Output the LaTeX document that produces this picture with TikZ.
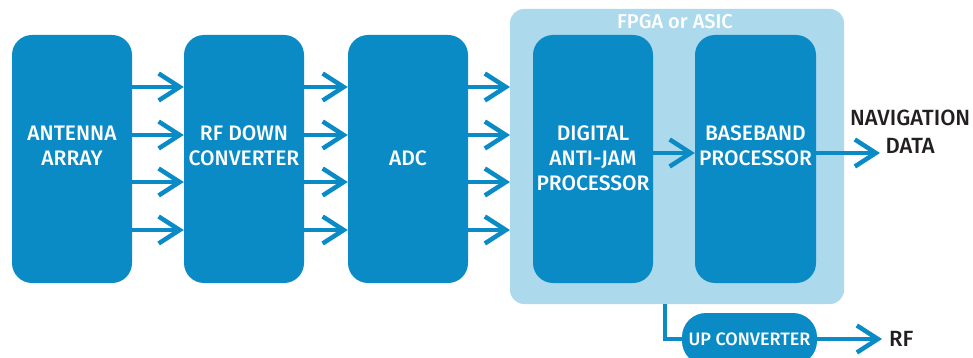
\documentclass[tikz,border=0pt]{standalone}
\usepackage{fontspec}
\setmainfont{Fira Sans}
\newfontfamily\semib{Fira Sans Medium}
\usetikzlibrary{arrows.meta}
\definecolor{mainblue}{HTML}{0A8BC6}
\definecolor{lightblue}{HTML}{ADD9ED}
\definecolor{darktext}{HTML}{231F20}
\tikzset{
  blockbox/.style={fill=mainblue, draw=none, rounded corners=20pt},
  blocktext/.style={text=white, align=center, font=\semib\fontsize{21}{25}\selectfont, inner sep=0pt},
  conn/.style={draw=mainblue, line width=4.5pt, -{Straight Barb[length=21pt,width=27pt]}},
  plainconn/.style={draw=mainblue, line width=4.5pt},
  outtext/.style={text=darktext, align=center, font=\semib\fontsize{22}{28}\selectfont, inner sep=0pt}
}
\begin{document}
\begin{tikzpicture}[x=1pt,y=-1pt]
\useasboundingbox (0,0) rectangle (973,358);
% FPGA container
\path[fill=lightblue, rounded corners=14pt] (510,9) rectangle (844,304);
\node[text=white, font=\semib\fontsize{20}{20}\selectfont, inner sep=0pt] (fpgalabel) at (675,22) {FPGA or ASIC};
\coordinate (fpgabot) at (665,304);
% blocks
\path[blockbox] (12,35) rectangle (132,283);
\path[blockbox] (184,35) rectangle (304,283);
\path[blockbox] (348,35) rectangle (468,283);
\path[blockbox] (533,35) rectangle (653,283);
\path[blockbox] (695,35) rectangle (816,283);
\node[minimum width=120pt, minimum height=248pt, inner sep=0pt] (ant) at (72,159) {};
\node[minimum width=120pt, minimum height=248pt, inner sep=0pt] (rfd) at (244,159) {};
\node[minimum width=120pt, minimum height=248pt, inner sep=0pt] (adc) at (408,159) {};
\node[minimum width=120pt, minimum height=248pt, inner sep=0pt] (daj) at (593,159) {};
\node[minimum width=121pt, minimum height=248pt, inner sep=0pt] (bbp) at (755.5,159) {};
\node[blocktext] (antt) at (72,146) {ANTENNA\\ARRAY};
\node[blocktext] (rfdt) at (244,146) {RF DOWN\\CONVERTER};
\node[blocktext] (adct) at (408,158) {ADC};
\node[blocktext] (dajt) at (593,158) {DIGITAL\\ANTI-JAM\\PROCESSOR};
\node[blocktext] (bbpt) at (755.5,146) {BASEBAND\\PROCESSOR};
% up converter
\node[fill=mainblue, rounded corners=24pt, minimum width=135pt, minimum height=52pt, inner sep=0pt] (upc) at (749.5,339) {};
\node[text=white, font=\semib\fontsize{18}{20}\selectfont, inner sep=0pt] (upct) at (749.5,339) {UP CONVERTER};
% outputs
\node[outtext, anchor=west] (nav) at (850,132) {NAVIGATION\\DATA};
\node[outtext, anchor=west] (rf) at (889,339) {RF};
% arrows
\foreach \yy in {87,135,182,230}{
  \draw[conn] (ant.east |- 0,\yy) -- (rfd.west |- 0,\yy);
  \draw[conn] (rfd.east |- 0,\yy) -- (adc.west |- 0,\yy);
  \draw[conn] (adc.east |- 0,\yy) -- (510,\yy);
}
\draw[conn] (daj.east |- 0,153) -- (bbp.west |- 0,153);
\draw[conn] (bbp.east |- 0,153) -- (880,153);
\draw[plainconn] (fpgabot) |- (upc.west);
\draw[conn] (upc.east) -- (882,339);
\end{tikzpicture}
\end{document}
